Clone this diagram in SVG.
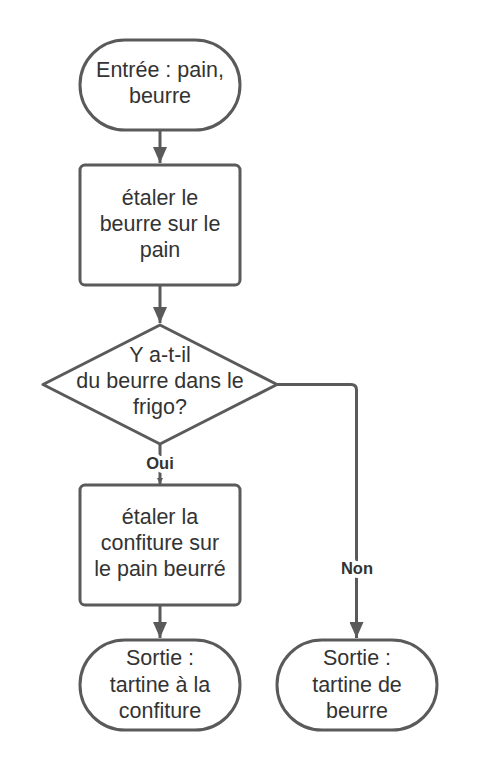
<svg xmlns="http://www.w3.org/2000/svg" width="480" height="770" viewBox="0 0 480 770">
<style>
.shape{fill:#ffffff;stroke:#5a5a5a;stroke-width:3}
.t{font-family:"Liberation Sans",Arial,sans-serif;font-size:21.5px;fill:#333333;text-anchor:middle}
.lbl{font-family:"Liberation Sans",Arial,sans-serif;font-size:16.5px;font-weight:bold;fill:#333333;text-anchor:middle;stroke:#ffffff;stroke-width:8px;paint-order:stroke;stroke-linejoin:round}
.c{fill:none;stroke:#5a5a5a;stroke-width:3;stroke-linejoin:round}
</style>
<defs>
<marker id="ah" viewBox="0 0 16 14" refX="16" refY="7" markerWidth="16" markerHeight="14" markerUnits="userSpaceOnUse" orient="auto">
<path d="M0,0 L16,7 L0,14 z" fill="#5a5a5a"/>
</marker>
<marker id="ahs" viewBox="0 0 6 6" refX="6" refY="3" markerWidth="6" markerHeight="6" markerUnits="userSpaceOnUse" orient="auto">
<path d="M0,0 L6,3 L0,6 z" fill="#5a5a5a"/>
</marker>
</defs>
<rect width="480" height="770" fill="#ffffff"/>
<g id="connectors">
<path class="c" d="M160,130 L160,163" marker-end="url(#ah)"/>
<path class="c" d="M160,285 L160,323" marker-end="url(#ah)"/>
<path class="c" d="M160,444 L160,484" marker-end="url(#ahs)" stroke-width="2"/>
<path class="c" d="M277,384.5 L351,384.5 Q356.5,384.5 356.5,390 L356.5,638" marker-end="url(#ah)"/>
<path class="c" d="M160,605 L160,638" marker-end="url(#ah)"/>
<text class="lbl" x="160" y="469">Oui</text>
<text class="lbl" x="357" y="574">Non</text>
</g>
<g id="start">
<rect class="shape" x="80" y="40" width="160" height="90" rx="45" ry="45"/>
<text class="t" x="160" y="76.5">Entrée : pain,</text>
<text class="t" x="160" y="103">beurre</text>
</g>
<g id="step1">
<rect class="shape" x="80" y="165" width="160" height="120" rx="5" ry="5"/>
<text class="t" x="160" y="204.5">étaler le</text>
<text class="t" x="160" y="231">beurre sur le</text>
<text class="t" x="160" y="257">pain</text>
</g>
<g id="decision">
<path class="shape" d="M160,325 L277,384.5 L160,444 L43,384.5 Z" stroke-linejoin="round"/>
<text class="t" x="160" y="362">Y a-t-il</text>
<text class="t" x="160" y="388">du beurre dans le</text>
<text class="t" x="160" y="414">frigo?</text>
</g>
<g id="step2">
<rect class="shape" x="80" y="485" width="160" height="120" rx="5" ry="5"/>
<text class="t" x="160" y="524">étaler la</text>
<text class="t" x="160" y="550">confiture sur</text>
<text class="t" x="160" y="576">le pain beurré</text>
</g>
<g id="end1">
<rect class="shape" x="80" y="640" width="160" height="90" rx="45" ry="45"/>
<text class="t" x="160" y="665">Sortie :</text>
<text class="t" x="160" y="691.5">tartine à la</text>
<text class="t" x="160" y="718">confiture</text>
</g>
<g id="end2">
<rect class="shape" x="277" y="640" width="160" height="90" rx="45" ry="45"/>
<text class="t" x="357" y="665">Sortie :</text>
<text class="t" x="357" y="691.5">tartine de</text>
<text class="t" x="357" y="718">beurre</text>
</g>
</svg>
